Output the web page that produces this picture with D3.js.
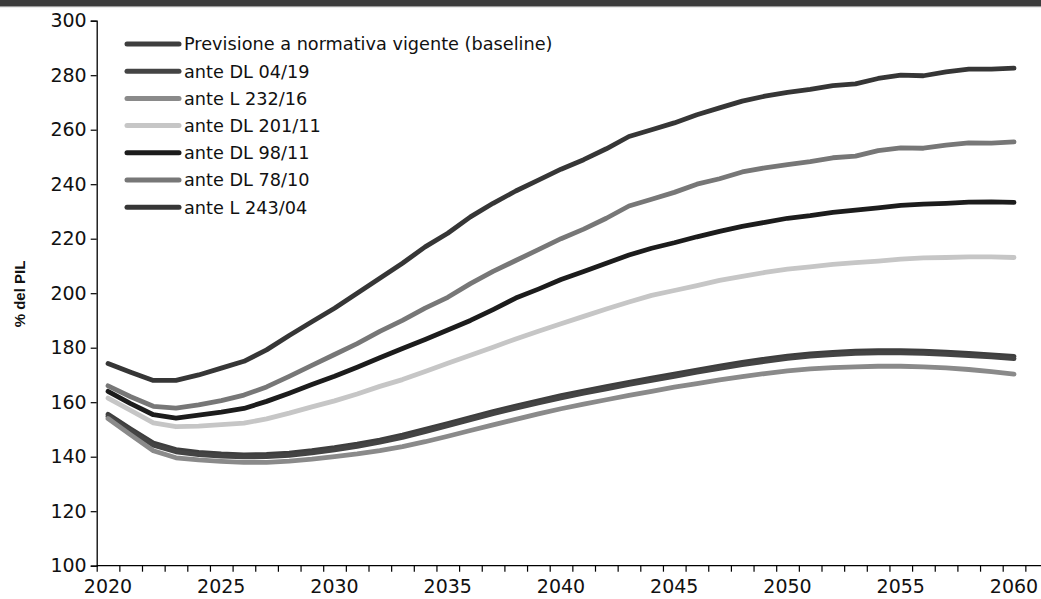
<!DOCTYPE html>
<html><head><meta charset="utf-8">
<script src="https://cdn.jsdelivr.net/npm/d3@7"></script>
<style>body{margin:0;background:#fff;overflow:hidden}</style>
</head><body>
<svg id="c" width="1041" height="599"></svg>
<script>
const years = [2020,2021,2022,2023,2024,2025,2026,2027,2028,2029,2030,2031,2032,2033,2034,2035,2036,2037,2038,2039,2040,2041,2042,2043,2044,2045,2046,2047,2048,2049,2050,2051,2052,2053,2054,2055,2056,2057,2058,2059,2060];
const xTickLabels = [2020,2025,2030,2035,2040,2045,2050,2055,2060];
const yTicks = [100,120,140,160,180,200,220,240,260,280,300];
const seriesNames = ["Previsione a normativa vigente (baseline)","ante DL 04/19","ante L 232/16","ante DL 201/11","ante DL 98/11","ante DL 78/10","ante L 243/04"];
const seriesColors = ["#3e3e3e","#444444","#8a8a8a","#c6c6c6","#1c1c1c","#777777","#363636"];

const baseline = [155.6,150.2,145.0,142.6,141.6,141.0,140.7,140.8,141.3,142.2,143.3,144.6,146.1,147.9,150.0,152.2,154.4,156.6,158.6,160.5,162.4,164.1,165.7,167.3,168.8,170.3,171.8,173.2,174.6,175.8,176.9,177.7,178.3,178.7,178.9,178.9,178.7,178.4,177.9,177.4,176.8];
const anteDL0419 = [154.8,149.4,144.2,141.8,140.8,140.2,139.9,140.0,140.5,141.4,142.5,143.8,145.3,147.1,149.2,151.4,153.6,155.8,157.8,159.7,161.6,163.3,164.9,166.5,168.0,169.5,171.0,172.4,173.8,175.0,176.1,176.9,177.5,177.9,178.1,178.1,177.9,177.6,177.1,176.6,176.0];
const anteL23216 = [154.0,148.0,142.2,139.6,138.8,138.3,137.9,137.9,138.4,139.1,140.0,141.0,142.2,143.7,145.5,147.5,149.6,151.7,153.7,155.7,157.6,159.3,160.9,162.5,164.0,165.5,166.8,168.2,169.4,170.5,171.5,172.2,172.7,173.0,173.2,173.2,173.0,172.6,172.0,171.2,170.3];
const anteDL20111 = [161.5,157.0,152.4,151.0,151.2,151.8,152.3,153.9,156.0,158.3,160.5,163.0,165.8,168.3,171.3,174.3,177.2,180.2,183.2,186.0,188.8,191.5,194.2,196.8,199.2,201.0,202.8,204.7,206.2,207.6,208.8,209.7,210.6,211.2,211.8,212.5,213.0,213.1,213.3,213.3,213.1];
const anteDL9811 = [164.0,159.5,155.4,154.2,155.3,156.4,157.7,160.3,163.3,166.5,169.5,172.8,176.3,179.7,183.0,186.5,190.0,194.0,198.2,201.5,205.0,208.0,211.0,214.0,216.5,218.5,220.7,222.7,224.5,226.0,227.5,228.5,229.7,230.5,231.3,232.2,232.7,233.0,233.4,233.5,233.3];
const anteDL7810 = [166.0,162.0,158.5,157.8,159.0,160.6,162.6,165.6,169.5,173.5,177.5,181.5,186.0,190.0,194.5,198.5,203.5,208.0,212.0,216.0,220.0,223.5,227.5,232.0,234.5,237.0,240.0,242.0,244.5,246.0,247.2,248.3,249.7,250.3,252.3,253.3,253.2,254.3,255.2,255.1,255.5];
const anteL24304 = [174.2,171.0,168.0,168.0,170.0,172.5,175.0,179.2,184.5,189.5,194.5,200.0,205.5,211.0,217.0,222.0,228.0,233.0,237.5,241.5,245.5,249.0,253.0,257.5,260.0,262.5,265.5,268.0,270.5,272.3,273.7,274.8,276.2,276.8,278.8,280.0,279.8,281.2,282.2,282.2,282.6];

const seriesValues = [baseline, anteDL0419, anteL23216, anteDL20111, anteDL9811, anteDL7810, anteL24304];

const svg = d3.select("#c");
const FONT = "DejaVu Sans";

// top band
svg.append("rect").attr("x",0).attr("y",0).attr("width",1041).attr("height",6).attr("fill","#3c3c3c");
svg.append("rect").attr("x",0).attr("y",6).attr("width",1041).attr("height",1.2).attr("fill","#9a9a9a");

const left = 96.7, plotTop = 20.7, plotBottom = 565.7;
const x = d3.scaleBand().domain(years).range([left, left + 41*22.65]).padding(0);
const y = d3.scaleLinear().domain([100,300]).range([plotBottom, plotTop]);
const cx = d => x(d) + x.bandwidth()/2;

// y axis
const yAxis = d3.axisLeft(y).tickValues(yTicks).tickSize(6).tickPadding(4).tickFormat(d3.format("d"));
const gy = svg.append("g").attr("transform",`translate(${left},0)`).call(yAxis);
gy.select(".domain").attr("stroke","#000").attr("stroke-width",1.3);
gy.selectAll(".tick line").attr("stroke","#000").attr("stroke-width",1.2);
gy.selectAll("text").attr("font-family",FONT).attr("font-size",19).attr("fill","#111");

// x axis: ticks at category boundaries
const xb = d3.scaleLinear().domain([2019.5,2060.5]).range([left, left + 41*22.65]);
const boundaries = years.map(d => d - 0.5).concat([2060.5]);
const gx = svg.append("g").attr("transform",`translate(0,${plotBottom})`)
  .call(d3.axisBottom(xb).tickValues(boundaries).tickSize(6).tickFormat(""));
gx.select(".domain").remove();
gx.selectAll(".tick line").attr("stroke","#000").attr("stroke-width",1.2);
svg.append("line").attr("x1",left).attr("x2",1041).attr("y1",plotBottom).attr("y2",plotBottom).attr("stroke","#000").attr("stroke-width",1.3);
const gxl = svg.append("g").attr("transform",`translate(0,${plotBottom})`)
  .call(d3.axisBottom(x).tickValues(xTickLabels).tickSize(0).tickPadding(14));
gxl.select(".domain").remove();
gxl.selectAll("text").attr("font-family",FONT).attr("font-size",19).attr("fill","#111");

// y label
svg.append("text").attr("transform","translate(25,294) rotate(-90)").attr("text-anchor","middle")
  .attr("font-family","Liberation Sans").attr("font-weight","bold").attr("font-size",15).attr("fill","#111").text("% del PIL");

// lines
const line = d3.line().x((d,i)=>cx(years[i])).y(d=>y(d));
seriesValues.forEach((vals,k)=>{
  svg.append("path").datum(vals).attr("d",line).attr("fill","none")
    .attr("stroke",seriesColors[k]).attr("stroke-width",4.8)
    .attr("stroke-linejoin","round").attr("stroke-linecap","round");
});

// legend
const legY0 = 44, legDy = 27.2;
seriesNames.forEach((n,k)=>{
  const yy = legY0 + k*legDy;
  svg.append("line").attr("x1",127).attr("x2",179).attr("y1",yy).attr("y2",yy)
    .attr("stroke",seriesColors[k]).attr("stroke-width",5).attr("stroke-linecap","round");
  svg.append("text").attr("x",184).attr("y",yy).attr("dy","0.36em")
    .attr("font-family",FONT).attr("font-size",17.7).attr("fill","#111").text(n);
});
</script>
</body></html>
